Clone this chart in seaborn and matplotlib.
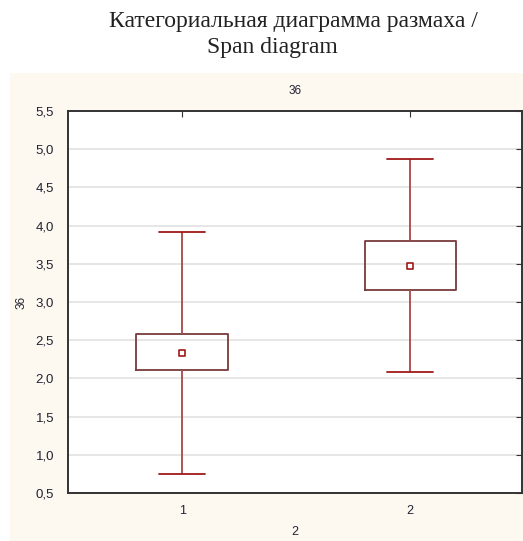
import pandas as pd
import numpy as np
import matplotlib
matplotlib.use("Agg")
import matplotlib.pyplot as plt
from matplotlib.patches import Rectangle
import seaborn as sns

# values
groups = ['1', '2']
whisker_low = [0.75, 2.08]
box_low = [2.11, 3.16]
means = [2.33, 3.47]
box_high = [2.58, 3.80]
whisker_high = [3.92, 4.87]

y_ticks = [0.5, 1.0, 1.5, 2.0, 2.5, 3.0, 3.5, 4.0, 4.5, 5.0, 5.5]
y_tick_labels = ['0,5', '1,0', '1,5', '2,0', '2,5', '3,0', '3,5', '4,0', '4,5', '5,0', '5,5']

title_line1 = 'Категориальная диаграмма размаха /'
title_line2 = 'Span diagram'
panel_title = '36'
y_label = '36'
x_label = '2'

# long table: 5 values per group -> min, q1, centre, q3, max
rows = []
for g, a, b, m, c, d in zip(groups, whisker_low, box_low, means, box_high, whisker_high):
    for v in (a, b, m, c, d):
        rows.append({'group': g, 'value': v})
df = pd.DataFrame(rows)

sns.set_style('white')
plt.rcParams['font.family'] = ['Liberation Sans', 'DejaVu Sans']

fig = plt.figure(figsize=(5.23, 5.41), dpi=100)
fig.patch.set_facecolor('white')
# beige panel behind the plot (Statistica window)
fig.add_artist(Rectangle((10 / 523, 0), 1, 1 - 73 / 541, transform=fig.transFigure,
                         facecolor='#fdf8f0', edgecolor='none', zorder=-10))

ax = fig.add_axes([68 / 523, 48 / 541, 454 / 523, 382 / 541])
ax.set_facecolor('white')

dark_red = '#8a2a2a'
sns.boxplot(data=df, x='group', y='value', order=groups, whis=(0, 100), width=0.4,
            fill=False, linecolor=dark_red, linewidth=1.3,
            medianprops={'visible': False},
            whiskerprops={'color': '#a84646'},
            capprops={'color': '#a01818'},
            boxprops={'color': '#7a3a3a'},
            ax=ax)
sns.scatterplot(x=groups, y=means, marker='s', s=22, facecolor='white',
                edgecolor='#a01818', linewidth=1.2, ax=ax, zorder=5)

ax.set_xlim(-0.5, 1.49)
ax.set_ylim(0.5, 5.5)
ax.set_yticks(y_ticks)
ax.set_yticklabels(y_tick_labels)
ax.grid(axis='y', color='#e2e2e2', linewidth=1.2)
ax.set_axisbelow(True)

for s in ax.spines.values():
    s.set_color('#333333')
    s.set_linewidth(1.4)
    s.set_visible(True)

ax.tick_params(axis='x', direction='in', top=True, length=4, color='#333333',
               labelsize=9, labelcolor='#222233', pad=9)
ax.tick_params(axis='y', direction='in', right=True, length=4, color='#333333',
               labelsize=9.5, labelcolor='#222233', pad=10)

ax.set_xlabel(x_label, fontsize=9, color='#222233', labelpad=6)
ax.set_ylabel(y_label, fontsize=8.5, color='#222233', labelpad=6)
ax.set_title(panel_title, fontsize=8.5, color='#222233', pad=12)

fig.text(293 / 523, 1 - 22 / 541, title_line1, ha='center', va='center',
         fontsize=17, family='Liberation Serif', color='#222222')
fig.text(272 / 523, 1 - 47 / 541, title_line2, ha='center', va='center',
         fontsize=17, family='Liberation Serif', color='#222222')

fig.savefig('out.png', dpi=100)
